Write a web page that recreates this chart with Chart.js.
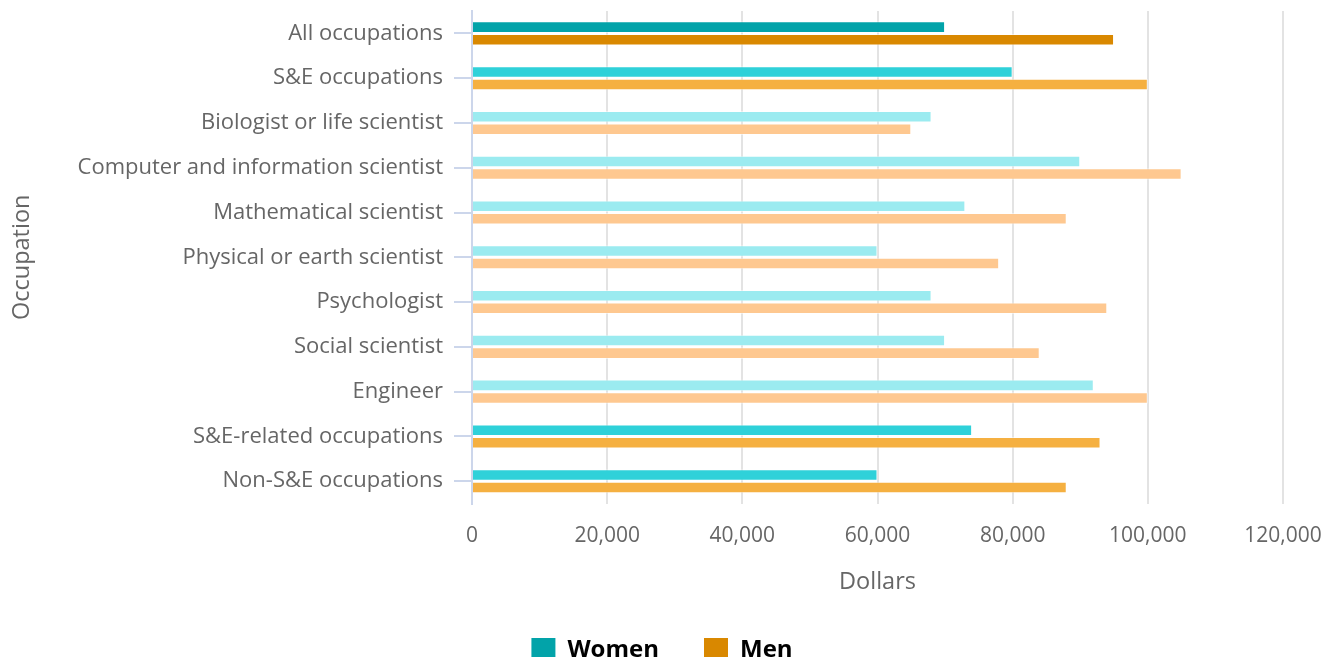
<!DOCTYPE html>
<html>
<head>
<meta charset="utf-8">
<title>Median salaries by occupation and sex</title>
<script src="https://cdn.jsdelivr.net/npm/chart.js@4.4.1/dist/chart.umd.min.js"></script>
<style>
  html, body { margin: 0; padding: 0; background: #ffffff; overflow: hidden; }
  #wrap { position: relative; width: 1336px; height: 672px; }
</style>
</head>
<body>
<div id="wrap"><canvas id="chart"></canvas></div>
<script>
// Occupation categories, top to bottom
const occupations = [
  'All occupations',
  'S&E occupations',
  'Biologist or life scientist',
  'Computer and information scientist',
  'Mathematical scientist',
  'Physical or earth scientist',
  'Psychologist',
  'Social scientist',
  'Engineer',
  'S&E-related occupations',
  'Non-S&E occupations'
];

// Grouping level of each category: overall, major group, or detailed field
const levels = ['total', 'group', 'detail', 'detail', 'detail', 'detail', 'detail', 'detail', 'detail', 'group', 'group'];

// Median annual salary, dollars
const womenSalary = [70000, 80000, 68000, 90000, 73000, 60000, 68000, 70000, 92000, 74000, 60000];
const menSalary   = [95000, 100000, 65000, 105000, 88000, 78000, 94000, 84000, 100000, 93000, 88000];

// Dollar axis ticks
const dollarTicks = [0, 20000, 40000, 60000, 80000, 100000, 120000];

const womenShades = { total: '#02A3A9', group: '#2FD1D9', detail: '#9BEBF0' };
const menShades   = { total: '#D98800', group: '#F5B041', detail: '#FEC890' };

const FONT = "'Open Sans', 'Noto Sans', sans-serif";

new Chart(document.getElementById('chart'), {
  type: 'bar',
  data: {
    labels: occupations,
    datasets: [
      {
        label: 'Women',
        data: womenSalary,
        backgroundColor: levels.map(l => womenShades[l]),
        borderColor: 'rgba(255,255,255,0.5)',
        borderWidth: 1,
        categoryPercentage: 0.56,
        barPercentage: 0.92
      },
      {
        label: 'Men',
        data: menSalary,
        backgroundColor: levels.map(l => menShades[l]),
        borderColor: 'rgba(255,255,255,0.5)',
        borderWidth: 1,
        categoryPercentage: 0.56,
        barPercentage: 0.92
      }
    ]
  },
  options: {
    indexAxis: 'y',
    responsive: true,
    maintainAspectRatio: false,
    animation: false,
    devicePixelRatio: 1,
    locale: 'en-US',
    layout: { padding: { top: 11, right: 12, left: 0, bottom: 0 } },
    scales: {
      x: {
        min: dollarTicks[0],
        max: dollarTicks[dollarTicks.length - 1],
        afterBuildTicks: scale => { scale.ticks = dollarTicks.map(v => ({ value: v })); },
        afterFit: scale => { scale.paddingRight = 53; },
        grid: { color: '#e3e3e3', lineWidth: 2, drawTicks: false },
        border: { display: false },
        ticks: {
          padding: 20,
          color: '#666666',
          font: { family: FONT, size: 21 },
          maxRotation: 0,
          callback: v => v.toLocaleString('en-US')
        },
        title: {
          display: true,
          text: 'Dollars',
          color: '#666666',
          font: { family: FONT, size: 23.5 },
          padding: { top: -1, bottom: -3 }
        }
      },
      y: {
        afterFit: scale => {
          scale.width = 472;
          scale.paddingTop = 0;
          scale.paddingBottom = 0;
        },
        grid: {
          drawOnChartArea: false,
          drawTicks: true,
          tickLength: 18,
          offset: false,
          color: '#ccd6eb',
          lineWidth: 2
        },
        border: { display: true, color: '#ccd6eb', width: 2 },
        ticks: {
          padding: 11,
          color: '#666666',
          font: { family: FONT, size: 22 },
          autoSkip: false
        },
        title: {
          display: true,
          text: 'Occupation',
          color: '#666666',
          font: { family: FONT, size: 23.5 },
          padding: { top: 8, bottom: 0 }
        }
      }
    },
    plugins: {
      tooltip: { enabled: false },
      legend: {
        position: 'bottom',
        labels: {
          boxWidth: 24,
          boxHeight: 24,
          padding: 45,
          color: '#333333',
          font: { family: FONT, size: 24, weight: 'bold' },
          generateLabels: () => [
            { text: 'Women', fillStyle: womenShades.total, strokeStyle: womenShades.total, lineWidth: 0, datasetIndex: 0, hidden: false },
            { text: 'Men', fillStyle: menShades.total, strokeStyle: menShades.total, lineWidth: 0, datasetIndex: 1, hidden: false }
          ]
        }
      }
    }
  }
});
</script>
</body>
</html>
